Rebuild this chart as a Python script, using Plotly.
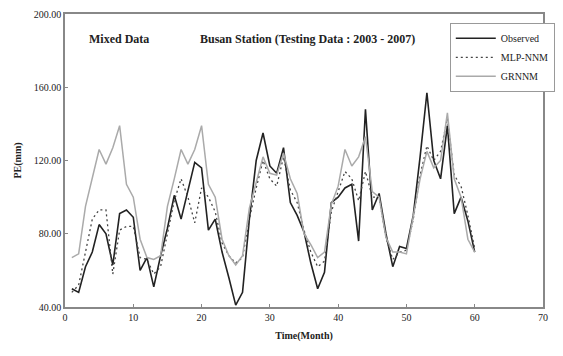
import plotly.graph_objects as go

months = list(range(1, 61))
observed = [50, 48, 62, 70, 85, 80, 63, 91, 93, 89,
            60, 67, 51, 68, 83, 101, 88, 103, 119, 116,
            82, 88, 70, 56, 41, 48, 88, 120, 135, 117,
            113, 127, 97, 90, 81, 64, 50, 59, 97, 100,
            105, 107, 76, 148, 93, 102, 80, 62, 73, 72,
            90, 122, 157, 120, 110, 139, 91, 100, 87, 70]
mlp = [48, 52, 70, 88, 93, 93, 58, 82, 84, 84,
       67, 66, 58, 62, 80, 98, 110, 100, 86, 105,
       100, 92, 75, 68, 64, 67, 88, 105, 120, 110,
       106, 122, 104, 97, 82, 70, 62, 65, 92, 103,
       114, 110, 98, 114, 100, 100, 78, 66, 70, 71,
       88, 112, 128, 120, 125, 143, 112, 106, 90, 72]
grnn = [67, 69, 95, 110, 126, 118, 127, 139, 107, 100,
        77, 67, 66, 68, 95, 110, 126, 118, 126, 139,
        107, 100, 77, 68, 63, 68, 94, 108, 122, 113,
        112, 124, 110, 102, 80, 74, 67, 70, 96, 106,
        126, 117, 122, 133, 103, 100, 78, 70, 70, 69,
        90, 110, 125, 116, 120, 146, 110, 100, 77, 70]
y_ticks = [40, 80, 120, 160, 200]
x_ticks = [0, 10, 20, 30, 40, 50, 60, 70]

serif = "Liberation Serif"
fig = go.Figure()
fig.add_trace(go.Scatter(x=months, y=observed, mode="lines", name="Observed",
                         line=dict(color="#222222", width=1.6)))
fig.add_trace(go.Scatter(x=months, y=mlp, mode="lines", name="MLP-NNM",
                         line=dict(color="#444444", width=1.3, dash="2px,3px")))
fig.add_trace(go.Scatter(x=months, y=grnn, mode="lines", name="GRNNM",
                         line=dict(color="#aaaaaa", width=1.5)))

fig.update_layout(
    width=563, height=356,
    margin=dict(l=65, r=8, t=14, b=49),
    paper_bgcolor="white", plot_bgcolor="white",
    font=dict(family=serif, size=10, color="#222222"),
    showlegend=True,
    legend=dict(x=0.805, y=0.97, xanchor="left", yanchor="top",
                bordercolor="#999999", borderwidth=1, bgcolor="white",
                font=dict(family=serif, size=10), tracegroupgap=0,
                itemwidth=40),
    xaxis=dict(range=[0, 70], tickvals=x_ticks, ticks="inside", ticklen=3,
               tickcolor="#888888", showline=True, linecolor="#888888", linewidth=1.5,
               mirror=True, showgrid=False, zeroline=False,
               title=dict(text="<b>Time(Month)</b>", font=dict(family=serif, size=10), standoff=10)),
    yaxis=dict(range=[40, 200], tickvals=y_ticks, tickformat=".2f", ticks="inside", ticklen=3,
               tickcolor="#888888", showline=True, linecolor="#888888", linewidth=1.5,
               mirror=True, showgrid=False, zeroline=False,
               title=dict(text="<b>PE(mm)</b>", font=dict(family=serif, size=10), standoff=10)),
    annotations=[
        dict(text="<b>Mixed Data</b>", x=0.045, y=0.915, xref="paper", yref="paper",
             xanchor="left", yanchor="middle", showarrow=False,
             font=dict(family=serif, size=12)),
        dict(text="<b>Busan Station (Testing Data : 2003 - 2007)</b>", x=0.278, y=0.915,
             xref="paper", yref="paper", xanchor="left", yanchor="middle", showarrow=False,
             font=dict(family=serif, size=12)),
    ],
)
fig.write_html("out.html")
